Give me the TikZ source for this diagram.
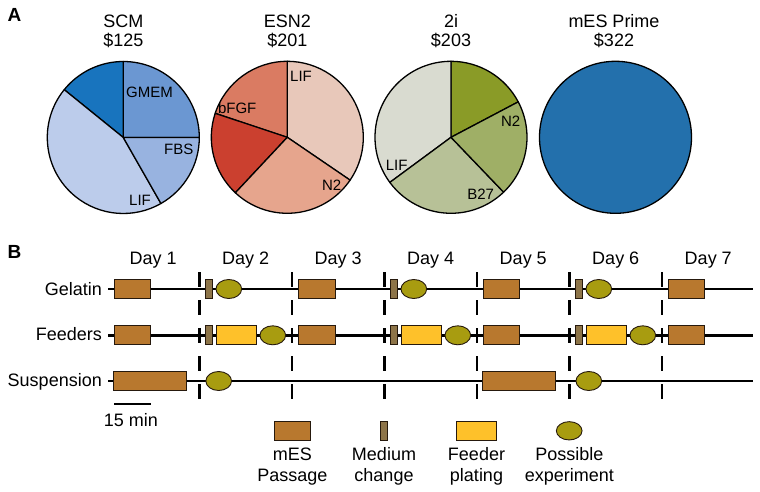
\documentclass[tikz,border=0pt]{standalone}
\usepackage{fontspec}
\setmainfont{Liberation Sans}
\usetikzlibrary{shapes.geometric}
\definecolor{scmDark}{HTML}{1874BE}
\definecolor{scmGmem}{HTML}{6B97D2}
\definecolor{scmFbs}{HTML}{98B3E0}
\definecolor{scmLif}{HTML}{BCCCEB}
\definecolor{esnLif}{HTML}{E8C8BA}
\definecolor{esnNtwo}{HTML}{E6A58D}
\definecolor{esnRed}{HTML}{CB402F}
\definecolor{esnBfgf}{HTML}{DA7B62}
\definecolor{tiOlive}{HTML}{8A9B27}
\definecolor{tiNtwo}{HTML}{9FAF66}
\definecolor{tiBtwo}{HTML}{B7C197}
\definecolor{tiLif}{HTML}{D9DBD0}
\definecolor{primeBlue}{HTML}{2370AC}
\definecolor{passc}{HTML}{B8782E}
\definecolor{medc}{HTML}{8D7448}
\definecolor{feedc}{HTML}{FEC12A}
\definecolor{exptc}{HTML}{A89C10}
\newcommand{\pieslice}[5]{%
  \filldraw[fill=#5, pieline] (#1,#2) -- ++(#3:76pt) arc[start angle=#3, end angle=#4, radius=76pt] -- cycle;}
\begin{document}
\begin{tikzpicture}[x=1pt,y=-1pt,
  pieline/.style={draw=black, line width=1.3pt, line join=round},
  title/.style={anchor=base, font=\fontsize{18}{20}\selectfont, inner sep=0},
  plabel/.style={anchor=base, font=\fontsize{15}{17}\selectfont, inner sep=0},
  panel/.style={anchor=base, font=\fontsize{19}{21}\selectfont\bfseries, inner sep=0},
  rowlab/.style={anchor=base east, font=\fontsize{18}{20}\selectfont, inner sep=0},
  rowline/.style={line width=2.4pt},
  dayline/.style={line width=2.6pt, dash pattern=on 15pt off 13pt},
  boxbase/.style={rectangle, draw=black!80!brown, line width=0.9pt, inner sep=0, minimum height=19pt},
  passage/.style={boxbase, fill=passc, minimum width=36.7pt},
  passlong/.style={boxbase, fill=passc, minimum width=73pt},
  medium/.style={boxbase, fill=medc, minimum width=6.7pt},
  feeder/.style={boxbase, fill=feedc, minimum width=40.7pt},
  expt/.style={ellipse, draw=black!80!brown, line width=0.9pt, fill=exptc, inner sep=0, minimum width=25.7pt, minimum height=19pt}
]
\useasboundingbox (0,0) rectangle (760,492);
% ---------- Panel A ----------
\node[panel] (A) at (14.5,22) {A};
% SCM
\pieslice{123.3}{137.5}{0}{90}{scmGmem}
\pieslice{123.3}{137.5}{90}{141}{scmDark}
\pieslice{123.3}{137.5}{141}{299.7}{scmLif}
\pieslice{123.3}{137.5}{299.7}{360}{scmFbs}
\node[title] (tscm) at (123.3,27.3) {SCM};
\node[title] (pscm) at (123.3,47) {\$125};
\node[plabel] (lgmem) at (149.5,97.7) {GMEM};
\node[plabel] (lfbs) at (178.7,154) {FBS};
\node[plabel] (lscmlif) at (140,205.4) {LIF};
% ESN2
\pieslice{287.3}{137.3}{-34.3}{90}{esnLif}
\pieslice{287.3}{137.3}{90}{161.6}{esnBfgf}
\pieslice{287.3}{137.3}{161.6}{226.9}{esnRed}
\pieslice{287.3}{137.3}{226.9}{325.7}{esnNtwo}
\node[title] (tesn) at (287.3,27.3) {ESN2};
\node[title] (pesn) at (287.3,47) {\$201};
\node[plabel] (lesnlif) at (301,82) {LIF};
\node[plabel] (lbfgf) at (237.2,113.4) {bFGF};
\node[plabel] (lesnn) at (331.7,190.4) {N2};
% 2i
\pieslice{451}{137.3}{27.8}{90}{tiOlive}
\pieslice{451}{137.3}{90}{216.4}{tiLif}
\pieslice{451}{137.3}{216.4}{313.8}{tiBtwo}
\pieslice{451}{137.3}{313.8}{387.8}{tiNtwo}
\node[title] (tti) at (451,27.3) {2i};
\node[title] (pti) at (451,47) {\$203};
\node[plabel] (ltin) at (510.7,127) {N2};
\node[plabel] (ltilif) at (396.7,170) {LIF};
\node[plabel] (ltib) at (480.7,199) {B27};
% mES Prime
\filldraw[fill=primeBlue, pieline] (615.5,137.3) circle[radius=76pt];
\node[title] (tprime) at (614,27.3) {mES Prime};
\node[title] (pprime) at (614,47) {\$322};
% ---------- Panel B ----------
\node[panel] (B) at (14.5,258.3) {B};
\foreach \i in {1,...,7} {
  \node[title] (day\i) at ({153.25+92.5*(\i-1)},264.3) {Day \i};
}
\node[rowlab] (lgel) at (102,295) {Gelatin};
\node[rowlab] (lfeed) at (102,340.5) {Feeders};
\node[rowlab] (lsusp) at (102,386.7) {Suspension};
\foreach \r/\y in {g/289,f/335.3,s/381} {
  \coordinate (\r L) at (108,\y);
  \coordinate (\r R) at (752.7,\y);
  \draw[rowline] (\r L) -- (\r R);
}
\foreach \k in {0,...,5} {
  \coordinate (dT\k) at ({199.5+92.5*\k},272);
  \coordinate (dB\k) at ({199.5+92.5*\k},399);
  \draw[dayline] (dT\k) -- (dB\k);
}
% Gelatin row
\node[passage] (g1) at (132.3,289) {};
\node[medium] (gm2) at (209,289) {};
\node[expt] (ge2) at (228.8,289) {};
\node[passage] (g3) at (316.7,289) {};
\node[medium] (gm4) at (394,289) {};
\node[expt] (ge4) at (413.8,289) {};
\node[passage] (g5) at (501.5,289) {};
\node[medium] (gm6) at (579,289) {};
\node[expt] (ge6) at (598.8,289) {};
\node[passage] (g7) at (686.5,289) {};
% Feeders row
\node[passage] (f1) at (132.3,335.3) {};
\node[medium] (fm2) at (209,335.3) {};
\node[feeder] (fy2) at (236.4,335.3) {};
\node[expt] (fe2) at (272.8,335.3) {};
\node[passage] (f3) at (316.7,335.3) {};
\node[medium] (fm4) at (394,335.3) {};
\node[feeder] (fy4) at (421.4,335.3) {};
\node[expt] (fe4) at (457.8,335.3) {};
\node[passage] (f5) at (501.5,335.3) {};
\node[medium] (fm6) at (579,335.3) {};
\node[feeder] (fy6) at (606.4,335.3) {};
\node[expt] (fe6) at (642.8,335.3) {};
\node[passage] (f7) at (686.5,335.3) {};
% Suspension row
\node[passlong] (s1) at (150.3,381) {};
\node[expt] (se2) at (218.7,381) {};
\node[passlong] (s5) at (519.3,381) {};
\node[expt] (se6) at (588.8,381) {};
% scale bar
\coordinate (sbL) at (114,404.3);
\coordinate (sbR) at (150.7,404.3);
\draw[line width=2.2pt] (sbL) -- (sbR);
\node[title] (sblab) at (131,426.7) {15 min};
% legend
\node[passage, minimum height=18.3pt] (legP) at (292.3,430.8) {};
\node[medium, minimum height=18.3pt] (legM) at (384,430.8) {};
\node[feeder, minimum height=18.3pt] (legF) at (476.3,430.8) {};
\node[expt, minimum height=18.3pt] (legE) at (569.2,430.8) {};
\node[title] (legPa) at (292.3,460) {mES};
\node[title] (legPb) at (292.3,481.7) {Passage};
\node[title] (legMa) at (384,460) {Medium};
\node[title] (legMb) at (384,481.7) {change};
\node[title] (legFa) at (476.5,460) {Feeder};
\node[title] (legFb) at (476.5,481.7) {plating};
\node[title] (legEa) at (569.3,460) {Possible};
\node[title] (legEb) at (569.3,481.7) {experiment};
\end{tikzpicture}
\end{document}
